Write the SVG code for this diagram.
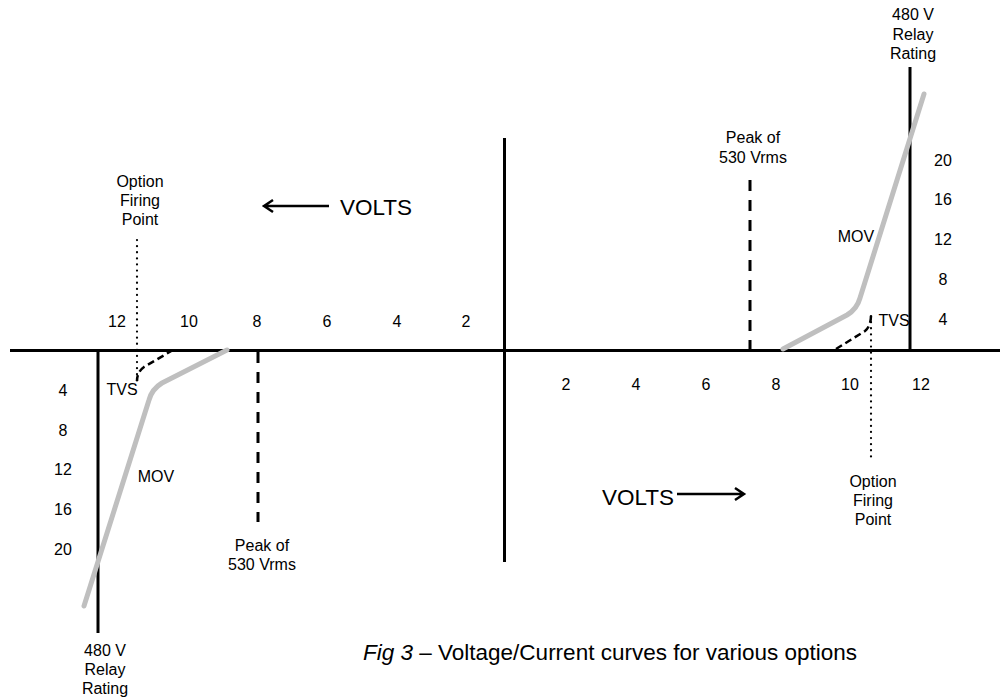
<svg xmlns="http://www.w3.org/2000/svg" width="1005" height="698" viewBox="0 0 1005 698">
<style>
text{font-family:"Liberation Sans",Arial,sans-serif;fill:#000}
.lbl{font-size:16px;text-anchor:middle}
.big{font-size:22.5px}
.ax{stroke:#000;stroke-width:3;fill:none}
.mov{stroke:#bfbfbf;stroke-width:5;fill:none;stroke-linecap:round;stroke-linejoin:round}
.tvs{stroke:#000;stroke-width:2.5;fill:none;stroke-dasharray:7 4}
.peak{stroke:#000;stroke-width:3;fill:none;stroke-dasharray:11 9}
.dot{stroke:#000;stroke-width:2.2;fill:none;stroke-dasharray:0.1 6;stroke-linecap:round}
.arr{stroke:#000;stroke-width:2.5;fill:none}
</style>
<rect width="1005" height="698" fill="#fff"/>
<g id="connectors">
<line id="x-axis" class="ax" x1="10" y1="350.5" x2="1000" y2="350.5"/>
<line id="y-axis" class="ax" x1="504.5" y1="138" x2="504.5" y2="562" stroke-width="2.5"/>
<line id="relay-left-line" class="ax" x1="98" y1="350" x2="98" y2="633"/>
<line id="relay-right-line" class="ax" x1="910" y1="67" x2="910" y2="350"/>
<path id="mov-left" class="mov" d="M227,350 L162,383 Q152,389 149,400 L84,606"/>
<path id="mov-right" class="mov" d="M783,349 L847,315 Q857,309 860,298 L924,94"/>
<path id="tvs-left" class="tvs" d="M173,350 L144,367 Q137,372 137,381"/>
<path id="tvs-right" class="tvs" d="M836,349 L865,331 Q871,326 871,315"/>
<line id="peak-left-line" class="peak" x1="258" y1="352" x2="258" y2="522"/>
<line id="peak-right-line" class="peak" x1="750" y1="180" x2="750" y2="349"/>
<line id="fire-left-line" class="dot" x1="137" y1="240" x2="137" y2="386"/>
<line id="fire-right-line" class="dot" x1="871" y1="316" x2="871" y2="460"/>
<path id="volts-left-arrow" class="arr" d="M329,206 H264 M273,200 L264,206 L273,212"/>
<path id="volts-right-arrow" class="arr" d="M677,494 H744 M735,488 L744,494 L735,500"/>
</g>
<g id="x-labels-left" class="lbl">
<text x="117" y="327">12</text><text x="189" y="327">10</text><text x="257" y="327">8</text>
<text x="327" y="327">6</text><text x="397" y="327">4</text><text x="466" y="327">2</text>
</g>
<g id="x-labels-right" class="lbl">
<text x="566" y="390">2</text><text x="636" y="390">4</text><text x="706" y="390">6</text>
<text x="776" y="390">8</text><text x="850" y="390">10</text><text x="921" y="390">12</text>
</g>
<g id="y-labels-left" class="lbl">
<text x="63" y="396">4</text><text x="63" y="436">8</text><text x="63" y="475">12</text>
<text x="63" y="515">16</text><text x="63" y="555">20</text>
</g>
<g id="y-labels-right" class="lbl">
<text x="943" y="325">4</text><text x="943" y="285">8</text><text x="943" y="245">12</text>
<text x="943" y="205">16</text><text x="943" y="166">20</text>
</g>
<g id="relay-left" class="lbl"><text x="105" y="656">480 V</text><text x="105" y="675">Relay</text><text x="105" y="694">Rating</text></g>
<g id="relay-right" class="lbl"><text x="913" y="20">480 V</text><text x="913" y="40">Relay</text><text x="913" y="59">Rating</text></g>
<g id="peak-left" class="lbl"><text x="262" y="551">Peak of</text><text x="262" y="570">530 Vrms</text></g>
<g id="peak-right" class="lbl"><text x="753" y="143">Peak of</text><text x="753" y="163">530 Vrms</text></g>
<g id="fire-left" class="lbl"><text x="140" y="187">Option</text><text x="140" y="206">Firing</text><text x="140" y="225">Point</text></g>
<g id="fire-right" class="lbl"><text x="873" y="487">Option</text><text x="873" y="506">Firing</text><text x="873" y="525">Point</text></g>
<g id="tvs-left-label" class="lbl"><text x="122" y="395">TVS</text></g>
<g id="tvs-right-label" class="lbl"><text x="894" y="326">TVS</text></g>
<g id="mov-left-label" class="lbl"><text x="156" y="482">MOV</text></g>
<g id="mov-right-label" class="lbl"><text x="856" y="242">MOV</text></g>
<g id="volts-left"><text class="big" x="340" y="215">VOLTS</text></g>
<g id="volts-right"><text class="big" x="602" y="505">VOLTS</text></g>
<g id="caption"><text class="big" x="363" y="660"><tspan font-style="italic">Fig 3</tspan> – Voltage/Current curves for various options</text></g>
</svg>
